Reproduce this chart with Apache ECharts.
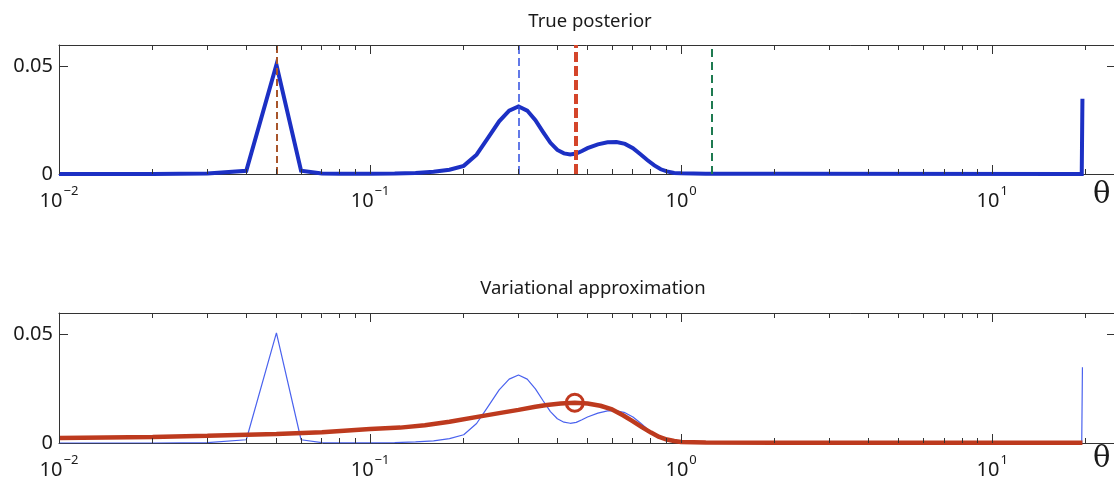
<!DOCTYPE html>
<html>
<head>
<meta charset="utf-8">
<script src="https://cdn.jsdelivr.net/npm/echarts@6/dist/echarts.min.js"></script>
<style>
html,body{margin:0;padding:0;background:#fff;}
#chart{width:1114px;height:477px;}
</style>
</head>
<body>
<div id="chart"></div>
<script>
// ---- data ----
const thetaPost = [0.01,0.02,0.03,0.04,0.05,0.06,0.07,0.08,0.10,0.12,0.14,0.16,0.18,0.20,0.22,0.24,0.26,0.28,0.30,0.32,0.34,0.36,0.38,0.40,0.42,0.44,0.46,0.48,0.50,0.54,0.58,0.62,0.66,0.70,0.74,0.78,0.82,0.86,0.90,0.95,1.00,1.20,2.0,19.4,19.5];
const posterior = [0,0,0.0002,0.0015,0.0508,0.0015,0.0002,0.0001,0.0001,0.0002,0.0005,0.0010,0.0020,0.0038,0.0090,0.0170,0.0245,0.0295,0.0314,0.0295,0.0250,0.0195,0.0145,0.0112,0.0096,0.0091,0.0095,0.0107,0.0120,0.0138,0.0148,0.0149,0.0140,0.0120,0.0092,0.0064,0.0040,0.0022,0.0012,0.0005,0.0003,0.0001,0.0001,0,0.035];
const thetaVar = [0.01,0.02,0.03,0.05,0.07,0.10,0.125,0.15,0.18,0.226,0.26,0.30,0.34,0.37,0.41,0.455,0.50,0.55,0.60,0.65,0.70,0.75,0.80,0.85,0.90,0.95,1.0,1.2,2.0,19.5];
const variational = [0.0023,0.0028,0.0033,0.0041,0.0050,0.0065,0.0071,0.0082,0.0098,0.0123,0.0138,0.0153,0.0167,0.0175,0.0182,0.0186,0.0182,0.0172,0.0155,0.0128,0.0100,0.0072,0.0048,0.0028,0.0016,0.0009,0.0005,0.0002,0.0001,0.0001];
const markerTheta = [0.05, 0.3, 0.455, 1.245];
const modePoint = [0.455, 0.0186];
const majorTicks = [0.01, 0.1, 1, 10];
const minorTicks = [0.02,0.03,0.04,0.05,0.06,0.07,0.08,0.09,0.2,0.3,0.4,0.5,0.6,0.7,0.8,0.9,2,3,4,5,6,7,8,9,20];
const yTickLabels = [0, 0.05];
const titles = ['True posterior', 'Variational approximation'];

const FONT = 'Noto Sans';
const AXIS_COLOR = '#333';
const TEXT_COLOR = '#1a1a1a';
const X_MIN = 0.01, X_MAX = 25, Y_MAX = 0.06;
const MAJOR_LEN = 9, MINOR_LEN = 5;

const grids = [
  {left: 59, top: 45, right: -2, height: 129, outerBoundsMode: 'none'},
  {left: 59, top: 313, right: -2, height: 130, outerBoundsMode: 'none'}
];

function xLabel(v) {
  const l = Math.log10(v);
  const e = Math.round(l);
  if (Math.abs(l - e) > 1e-6) return '';
  const es = e < 0 ? '\u2212' + (-e) : String(e);
  return '{b|10}{s|' + es + '}';
}

const axisLineCfg = {show: true, onZero: false, lineStyle: {color: AXIS_COLOR, width: 1}};
const xAxes = [];
const yAxes = [];
[0, 1].forEach(g => {
  xAxes.push({
    type: 'log', logBase: 10, gridIndex: g, position: 'bottom', min: X_MIN, max: X_MAX,
    axisLine: axisLineCfg,
    axisTick: {show: false},
    splitLine: {show: false}, minorTick: {show: false},
    axisLabel: {
      show: true, margin: 11, formatter: xLabel, color: TEXT_COLOR, fontFamily: FONT,
      rich: {
        b: {fontSize: 20, fontFamily: FONT, color: TEXT_COLOR, lineHeight: 26, verticalAlign: 'bottom'},
        s: {fontSize: 13, fontFamily: FONT, color: TEXT_COLOR, lineHeight: 26, verticalAlign: 'top', padding: [0,0,0,1]}
      }
    }
  });
  xAxes.push({
    type: 'log', logBase: 10, gridIndex: g, position: 'top', min: X_MIN, max: X_MAX,
    axisLine: axisLineCfg,
    axisTick: {show: false},
    splitLine: {show: false}, axisLabel: {show: false}
  });
  yAxes.push({
    type: 'value', gridIndex: g, position: 'left', min: 0, max: Y_MAX, interval: 0.05,
    axisLine: axisLineCfg,
    axisTick: {show: true, inside: true, length: 9, lineStyle: {color: AXIS_COLOR}},
    splitLine: {show: false},
    axisLabel: {
      show: true, margin: 6, fontSize: 20, color: TEXT_COLOR, fontFamily: FONT,
      formatter: v => yTickLabels.some(t => Math.abs(t - v) < 1e-9) ? String(v) : ''
    }
  });
  yAxes.push({
    type: 'value', gridIndex: g, position: 'right', min: 0, max: Y_MAX, interval: 0.05,
    axisLine: axisLineCfg,
    axisTick: {show: true, inside: true, length: 9, lineStyle: {color: AXIS_COLOR}},
    splitLine: {show: false}, axisLabel: {show: false}
  });
});

const markStyles = [
  {color: '#a8552b', width: 2, type: [7, 4]},
  {color: '#2f4ee0', width: 1.5, type: [8, 4]},
  {color: '#d4452a', width: 4, type: [10, 4]},
  {color: '#1e7a50', width: 2, type: [8, 5]}
];

const baseGraphic = [
  {type: 'text', left: 1093, top: 181, style: {text: '\u03b8', fontFamily: 'DejaVu Serif', fontSize: 29, fill: TEXT_COLOR}},
  {type: 'text', left: 1093, top: 445, style: {text: '\u03b8', fontFamily: 'DejaVu Serif', fontSize: 29, fill: TEXT_COLOR}}
];

const option = {
  animation: false,
  backgroundColor: '#fff',
  title: [
    {text: titles[0], left: 585, top: 7, textAlign: 'center',
     textStyle: {fontFamily: FONT, fontSize: 18.5, fontWeight: 'normal', color: TEXT_COLOR}},
    {text: titles[1], left: 588, top: 274, textAlign: 'center',
     textStyle: {fontFamily: FONT, fontSize: 18.5, fontWeight: 'normal', color: TEXT_COLOR}}
  ],
  grid: grids,
  xAxis: xAxes,
  yAxis: yAxes,
  graphic: baseGraphic,
  series: [
    {
      type: 'line', xAxisIndex: 0, yAxisIndex: 0, z: 3,
      data: thetaPost.map((t, i) => [t, posterior[i]]),
      showSymbol: false, symbol: 'none',
      lineStyle: {color: '#1c30c4', width: 4, join: 'miter'},
      markLine: {
        silent: true, symbol: ['none', 'none'], label: {show: false}, animation: false,
        data: markerTheta.map((t, i) => ({xAxis: t, lineStyle: markStyles[i]}))
      }
    },
    {
      type: 'line', xAxisIndex: 2, yAxisIndex: 2, z: 3,
      data: thetaPost.map((t, i) => [t, posterior[i]]),
      showSymbol: false, symbol: 'none',
      lineStyle: {color: '#4a62ee', width: 1.2}
    },
    {
      type: 'line', xAxisIndex: 2, yAxisIndex: 2, z: 4,
      data: thetaVar.map((t, i) => [t, variational[i]]),
      showSymbol: false, symbol: 'none',
      lineStyle: {color: '#bd3a1e', width: 4.5}
    },
    {
      type: 'scatter', xAxisIndex: 2, yAxisIndex: 2, z: 5,
      data: [modePoint], symbol: 'circle', symbolSize: 17,
      itemStyle: {color: 'rgba(0,0,0,0)', borderColor: '#c0391f', borderWidth: 3, opacity: 1}
    }
  ]
};

const chart = echarts.init(document.getElementById('chart'), null, {renderer: 'canvas'});
chart.setOption(option);

// x tick marks (inside) on the bottom and top frames, positioned through the axes' own log scale
const tickGraphic = [];
[0, 1].forEach(g => {
  const finder = {xAxisIndex: g * 2, yAxisIndex: g * 2};
  const addTick = (t, len) => {
    const pb = chart.convertToPixel(finder, [t, 0]);
    const pt = chart.convertToPixel(finder, [t, Y_MAX]);
    if (!pb || !pt) return;
    const x = Math.floor(pb[0]);
    tickGraphic.push({type: 'rect', z: 100, silent: true,
      shape: {x: x, y: pb[1] - len, width: 1, height: len}, style: {fill: AXIS_COLOR}});
    tickGraphic.push({type: 'rect', z: 100, silent: true,
      shape: {x: x, y: pt[1], width: 1, height: len}, style: {fill: AXIS_COLOR}});
  };
  majorTicks.forEach(t => addTick(t, MAJOR_LEN));
  minorTicks.forEach(t => addTick(t, MINOR_LEN));
});
chart.setOption({graphic: baseGraphic.concat(tickGraphic)});
</script>
</body>
</html>
